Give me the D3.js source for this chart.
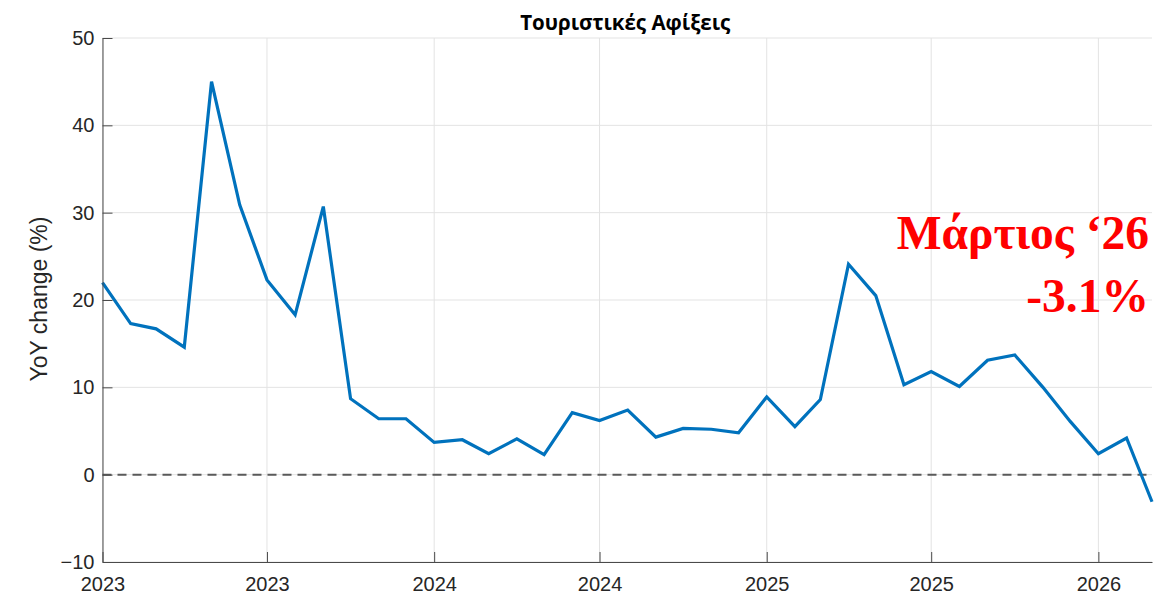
<!DOCTYPE html>
<html>
<head>
<meta charset="utf-8">
<script src="https://cdn.jsdelivr.net/npm/d3@7"></script>
<style>
  body { margin: 0; background: #fff; }
  svg { display: block; }
</style>
</head>
<body>
<div id="vis"><svg width="1175" height="594"></svg></div>
<script>
// monthly YoY change, Jan 2023 .. Mar 2026
const months = d3.utcMonths(new Date(Date.UTC(2023, 0, 1)), new Date(Date.UTC(2026, 3, 1)));
const yoy = [
  22.0, 17.3, 16.7, 14.6, 45.0, 30.9, 22.3, 18.3, 30.7, 8.7, 6.4, 6.4,
  3.7, 4.0, 2.4, 4.1, 2.3, 7.1, 6.2, 7.4, 4.3, 5.3, 5.2, 4.8,
  8.9, 5.5, 8.6, 24.1, 20.5, 10.3, 11.8, 10.1, 13.1, 13.7, 10.0, 6.1,
  2.4, 4.2, -3.1
];
const yTicks = [-10, 0, 10, 20, 30, 40, 50];
const xTicks = [
  new Date(Date.UTC(2023, 0, 1)), new Date(Date.UTC(2023, 6, 1)),
  new Date(Date.UTC(2024, 0, 1)), new Date(Date.UTC(2024, 6, 1)),
  new Date(Date.UTC(2025, 0, 1)), new Date(Date.UTC(2025, 6, 1)),
  new Date(Date.UTC(2026, 0, 1))
];
const titleText = "Τουριστικές Αφίξεις";
const yLabel = "YoY change (%)";
const noteLines = ["Μάρτιος ‘26", "-3.1%"];

const data = months.map((d, i) => ({ date: d, value: yoy[i] }));

const margin = { top: 38, right: 23, bottom: 32, left: 102.5 };
const width = 1175 - margin.left - margin.right;
const height = 594 - margin.top - margin.bottom;

const svg = d3.select("#vis").select("svg");
const chart = svg.append("g")
  .attr("transform", `translate(${margin.left},${margin.top})`);

const x = d3.scaleUtc()
  .domain(d3.extent(months))
  .range([0, width]);
const y = d3.scaleLinear()
  .domain([-10, 50])
  .range([height, 0]);

// grid
chart.append("g")
  .attr("class", "grid")
  .selectAll("line.h")
  .data(yTicks)
  .join("line")
  .attr("x1", 0).attr("x2", width)
  .attr("y1", d => y(d)).attr("y2", d => y(d))
  .attr("stroke", "#e3e3e3").attr("stroke-width", 1);
chart.append("g")
  .attr("class", "grid")
  .selectAll("line.v")
  .data(xTicks)
  .join("line")
  .attr("x1", d => x(d)).attr("x2", d => x(d))
  .attr("y1", 0).attr("y2", height)
  .attr("stroke", "#e3e3e3").attr("stroke-width", 1);

// zero line
chart.append("line")
  .attr("x1", 0).attr("x2", width)
  .attr("y1", y(0)).attr("y2", y(0))
  .attr("stroke", "#5a5a5a")
  .attr("stroke-width", 2)
  .attr("stroke-dasharray", "9,6");

// series
const line = d3.line()
  .x(d => x(d.date))
  .y(d => y(d.value));
chart.append("path")
  .datum(data)
  .attr("fill", "none")
  .attr("stroke", "#0072BD")
  .attr("stroke-width", 3.2)
  .attr("d", line);

// axes
const xAxis = d3.axisBottom(x)
  .tickValues(xTicks)
  .tickFormat(d3.utcFormat("%Y"))
  .tickSizeInner(-10)
  .tickSizeOuter(0)
  .tickPadding(15);
const yAxis = d3.axisLeft(y)
  .tickValues(yTicks)
  .tickSizeInner(-10)
  .tickSizeOuter(0)
  .tickPadding(8);

const styleAxis = g => {
  g.selectAll("path, line").attr("stroke", "#4a4a4a").attr("stroke-width", 1);
  g.selectAll("text")
    .attr("fill", "#262626")
    .style("font-family", "'Liberation Sans', Arial, sans-serif")
    .style("font-size", "20px");
};

chart.append("g")
  .attr("transform", `translate(0,${height})`)
  .call(xAxis)
  .call(styleAxis);
chart.append("g")
  .call(yAxis)
  .call(styleAxis);

// y label
chart.append("text")
  .attr("transform", `translate(-56,${height / 2 - 1}) rotate(-90)`)
  .attr("text-anchor", "middle")
  .attr("fill", "#262626")
  .style("font-family", "'Liberation Sans', Arial, sans-serif")
  .style("font-size", "23px")
  .text(yLabel);

// title
svg.append("text")
  .attr("x", margin.left + width / 2 - 2)
  .attr("y", 30)
  .attr("text-anchor", "middle")
  .attr("fill", "#000")
  .style("font-family", "'Open Sans', 'Noto Sans', sans-serif")
  .style("font-weight", "bold")
  .style("font-size", "20.5px")
  .text(titleText);

// annotation
const note = chart.append("text")
  .attr("text-anchor", "end")
  .attr("fill", "#ff0000")
  .style("font-family", "'Liberation Serif', 'Times New Roman', serif")
  .style("font-weight", "bold")
  .style("font-size", "47.5px");
note.selectAll("tspan")
  .data(noteLines)
  .join("tspan")
  .attr("x", width - 3)
  .attr("y", (d, i) => 211 + i * 63)
  .text(d => d);
</script>
</body>
</html>
